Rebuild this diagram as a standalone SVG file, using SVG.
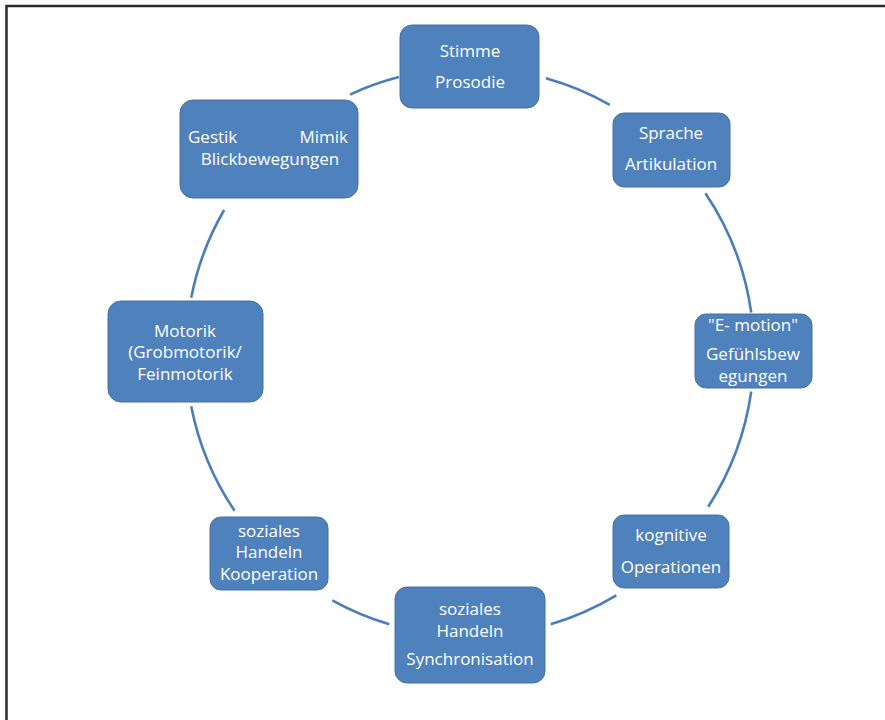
<svg xmlns="http://www.w3.org/2000/svg" width="885" height="720" viewBox="0 0 885 720">
  <style>
    .box { fill: #4f81bd; stroke: #44729f; stroke-width: 1; }
    .lbl { font-family: "Open Sans", "Liberation Sans", sans-serif; font-size: 17px; fill: #ffffff; text-anchor: middle; }
    .arc { fill: none; stroke: #4a7ebb; stroke-width: 2.6; }
    .frame { fill: none; stroke: #2b2b2b; stroke-width: 2.5; }
  </style>
  <rect x="0" y="0" width="885" height="720" fill="#ffffff"/>
  <!-- page frame: top and left edges only -->
  <path class="frame" d="M 6.5 720 L 6.5 6 L 885 6"/>

  <!-- ring segments between the nodes (centre 470,352, r 284) -->
  <g id="connectors">
    <path class="arc" d="M 545.9 78.3 A 284 284 0 0 1 609.8 104.8"/>
    <path class="arc" d="M 705.4 193.2 A 284 284 0 0 1 751.2 312.5"/>
    <path class="arc" d="M 751.2 391.5 A 284 284 0 0 1 708.2 506.7"/>
    <path class="arc" d="M 616.3 595.4 A 284 284 0 0 1 550.7 624.3"/>
    <path class="arc" d="M 389.3 624.3 A 284 284 0 0 1 332.3 600.4"/>
    <path class="arc" d="M 234.6 510.8 A 284 284 0 0 1 191.2 406.2"/>
    <path class="arc" d="M 191.2 297.8 A 284 284 0 0 1 224.1 210"/>
    <path class="arc" d="M 350 94.6 A 284 284 0 0 1 398.9 77.1"/>
  </g>

  <g id="stimme">
    <rect class="box" x="400" y="25" width="139" height="83" rx="12"/>
    <text class="lbl" x="470" y="57">Stimme</text>
    <text class="lbl" x="470" y="88">Prosodie</text>
  </g>

  <g id="sprache">
    <rect class="box" x="613" y="113" width="117" height="74" rx="11"/>
    <text class="lbl" x="671" y="139">Sprache</text>
    <text class="lbl" x="671" y="170">Artikulation</text>
  </g>

  <g id="emotion">
    <rect class="box" x="695" y="314" width="117" height="74" rx="11"/>
    <text class="lbl" x="753" y="331">"E- motion"</text>
    <text class="lbl" x="753" y="360">Gefühlsbew</text>
    <text class="lbl" x="753" y="382">egungen</text>
  </g>

  <g id="kognitiv">
    <rect class="box" x="613" y="515" width="116" height="73" rx="11"/>
    <text class="lbl" x="671" y="541">kognitive</text>
    <text class="lbl" x="671" y="573">Operationen</text>
  </g>

  <g id="synchronisation">
    <rect class="box" x="395" y="587" width="150" height="96" rx="12"/>
    <text class="lbl" x="470" y="615">soziales</text>
    <text class="lbl" x="470" y="637">Handeln</text>
    <text class="lbl" x="470" y="665">Synchronisation</text>
  </g>

  <g id="kooperation">
    <rect class="box" x="210" y="517" width="118" height="73" rx="11"/>
    <text class="lbl" x="269" y="537">soziales</text>
    <text class="lbl" x="269" y="558">Handeln</text>
    <text class="lbl" x="269" y="580">Kooperation</text>
  </g>

  <g id="motorik">
    <rect class="box" x="108" y="301" width="155" height="101" rx="13"/>
    <text class="lbl" x="185" y="337">Motorik</text>
    <text class="lbl" x="185" y="358">(Grobmotorik/</text>
    <text class="lbl" x="185" y="380">Feinmotorik</text>
  </g>

  <g id="gestik">
    <rect class="box" x="180" y="100" width="178" height="98" rx="13"/>
    <text class="lbl" x="188" y="143" style="text-anchor:start">Gestik</text>
    <text class="lbl" x="348" y="143" style="text-anchor:end">Mimik</text>
    <text class="lbl" x="270" y="165">Blickbewegungen</text>
  </g>
</svg>
